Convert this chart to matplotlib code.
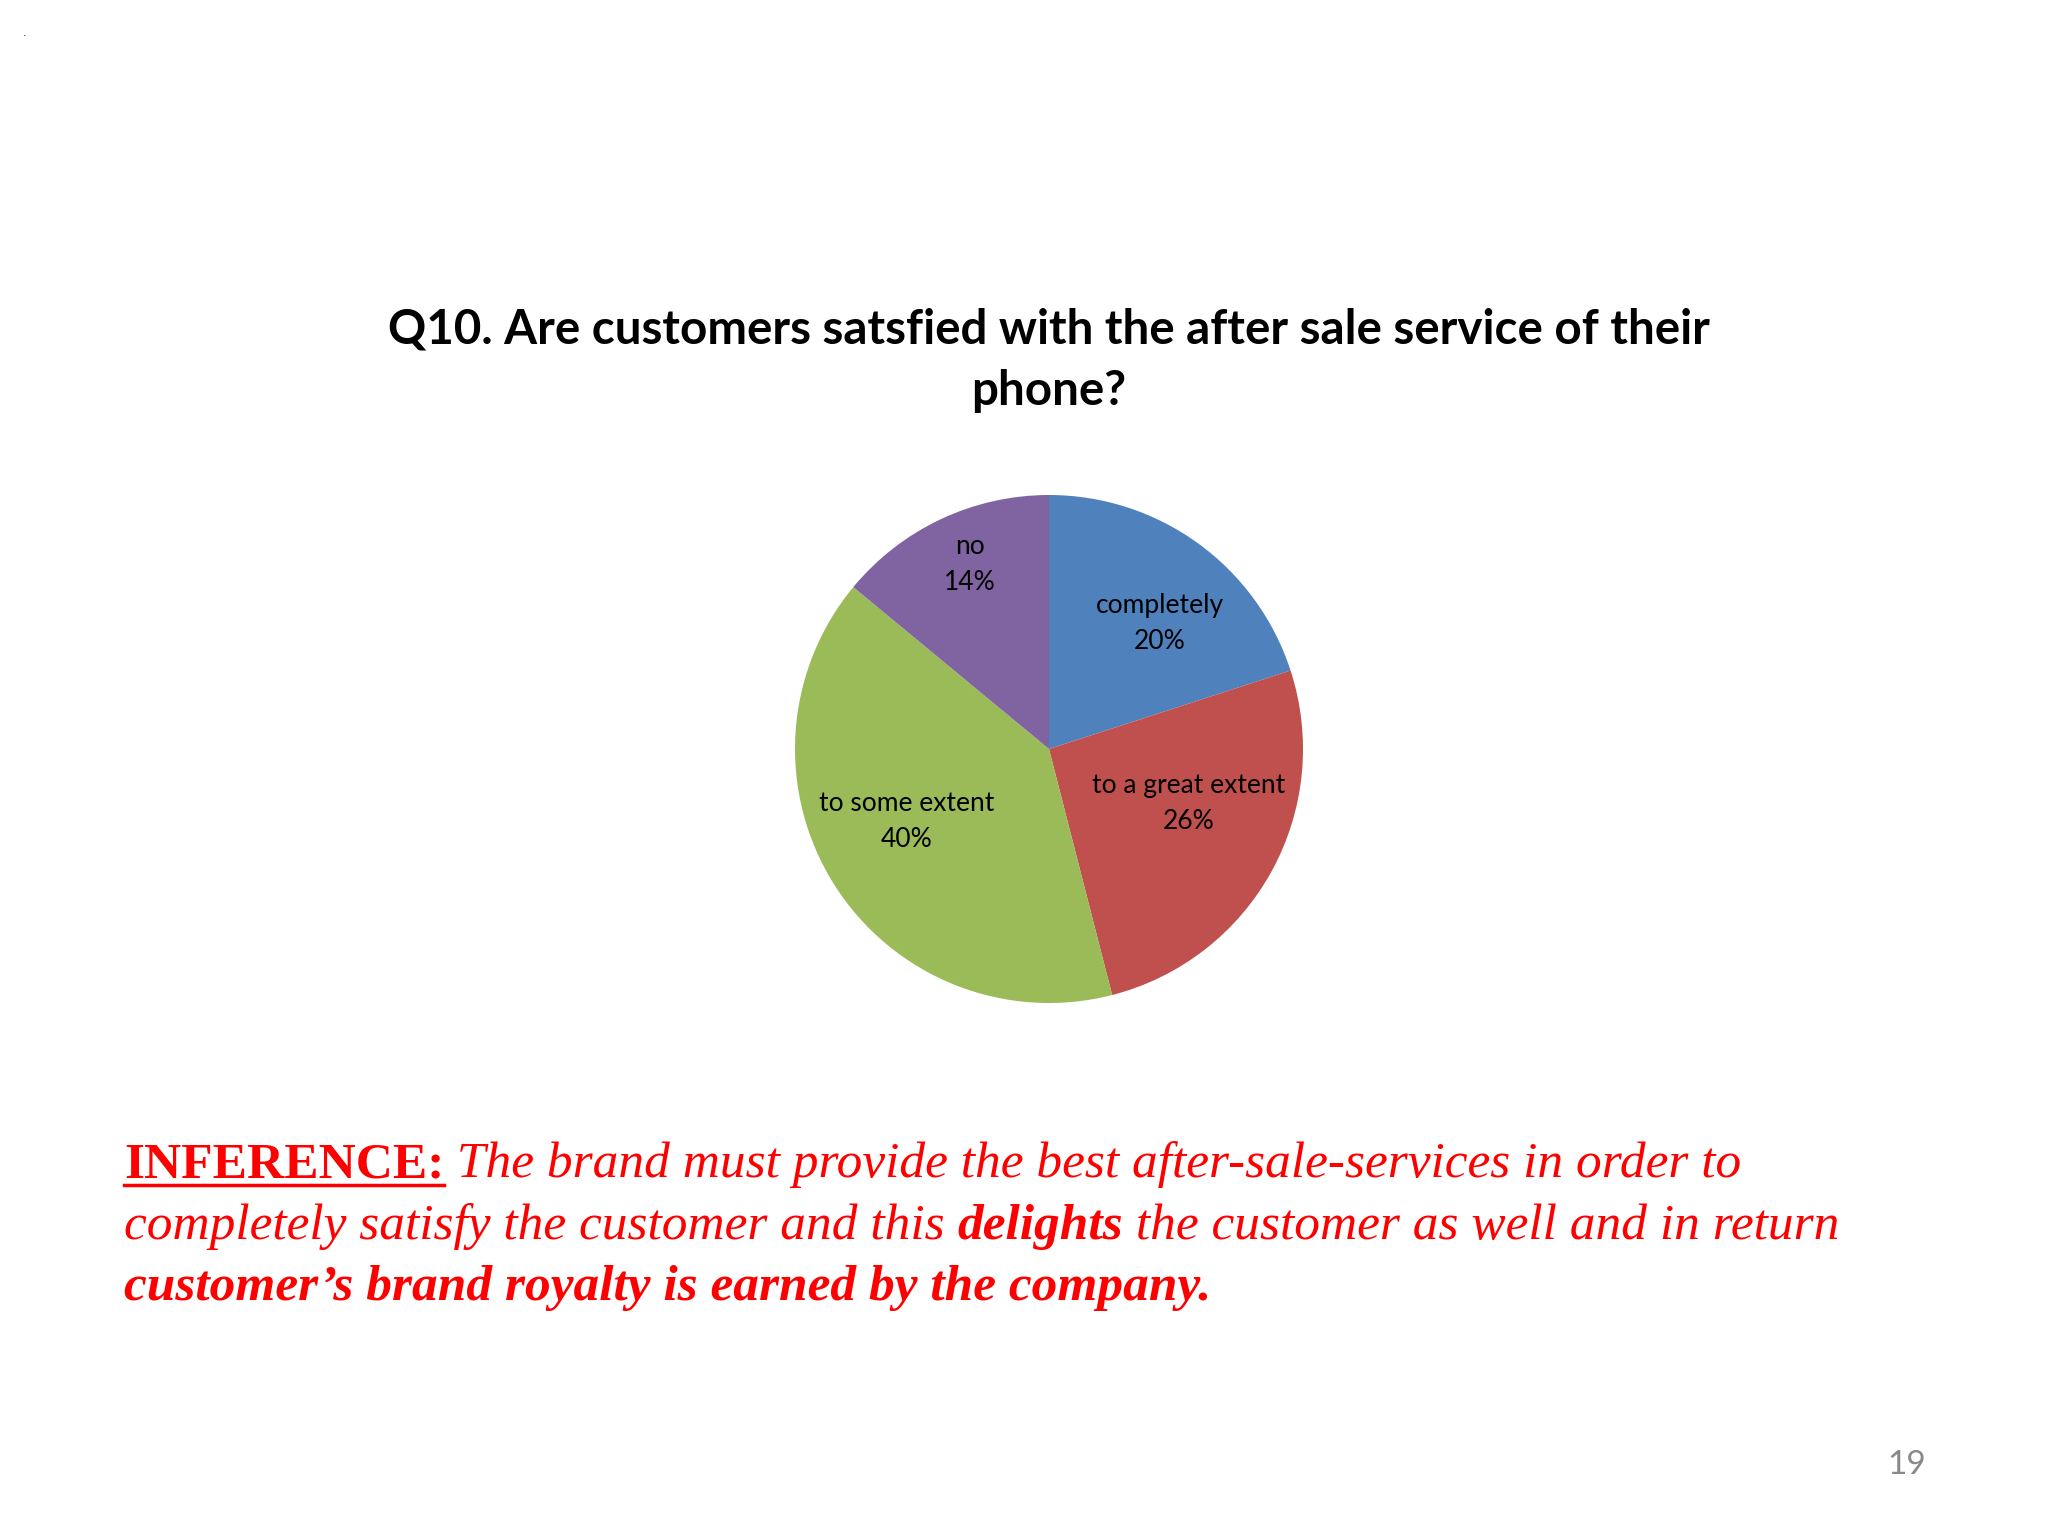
import numpy as np
import matplotlib
matplotlib.use("Agg")
import matplotlib.pyplot as plt
from matplotlib.lines import Line2D

# ============== data ==============
categories = ['completely', 'to a great extent', 'to some extent', 'no']
shares = [20, 26, 40, 14]
colors = ['#4f81bd', '#c0504d', '#9bbb59', '#8064a2']
title_lines = ['Q10. Are customers satsfied with the after sale service of their', 'phone?']

# label placement inside wedges (fraction of radius, angle tweak in deg)
label_r = [0.66, 0.59, 0.63, 0.79]
label_dang = [-5.4, 7.4, -5.5, -2]

W, H = 2048, 1536
fig = plt.figure(figsize=(W / 100, H / 100), dpi=100)
fig.patch.set_facecolor('white')

# ============== pie ==============
cx, cy, r = 1049, 749, 254
ax = fig.add_axes([(cx - r) / W, (H - cy - r) / H, 2 * r / W, 2 * r / H])
wedges, _ = ax.pie(shares, colors=colors, startangle=90, counterclock=False,
                   radius=1.0, wedgeprops=dict(linewidth=0))
ax.set_xlim(-1, 1)
ax.set_ylim(-1, 1)
ax.set_aspect('equal')
ax.axis('off')

for w, cat, val, lr, da in zip(wedges, categories, shares, label_r, label_dang):
    ang = np.deg2rad((w.theta1 + w.theta2) / 2 + da)
    ax.text(lr * np.cos(ang), lr * np.sin(ang), f'{cat}\n{val}%',
            ha='center', va='center', fontsize=19, family='Lato',
            linespacing=1.55, color='black')

# ============== title ==============
for s, yb in zip(title_lines, [343, 405]):
    fig.text(1049 / W, 1 - yb / H, s, ha='center', va='baseline',
             fontsize=34.2, fontweight='bold', family='Lato')

# ============== inference text ==============
red = '#ff0000'
fs = 37
lines = [
    [('INFERENCE:', 'normal', 'bold'),
     (' The brand must provide the best after-sale-services in order to', 'italic', 'normal')],
    [('completely satisfy the customer and this ', 'italic', 'normal'),
     ('delights', 'italic', 'bold'),
     (' the customer as well and in return', 'italic', 'normal')],
    [('customer\u2019s brand royalty is earned by the company.', 'italic', 'bold')],
]
baselines = [1177, 1239, 1300]
x0 = 124

renderer = fig.canvas.get_renderer()
for parts, yb in zip(lines, baselines):
    x = x0
    for s, style, weight in parts:
        t = fig.text(x / W, 1 - yb / H, s, ha='left', va='baseline',
                     fontsize=fs, family='Liberation Serif', style=style,
                     fontweight=weight, color=red)
        bb = t.get_window_extent(renderer)
        if s == 'INFERENCE:':
            fig.add_artist(Line2D([x / W, (x + bb.width) / W],
                                  [1 - (yb + 8) / H] * 2, color=red, linewidth=2.5))
        x += bb.width

# page number and stray dot
fig.text(1907 / W, 1 - 1465 / H, '19', ha='center', va='center',
         fontsize=24, family='Lato', color='#898989')
fig.text(25 / W, 1 - 33 / H, '.', ha='center', va='center', fontsize=8, color='black')

fig.savefig('out.png', dpi=100, facecolor='white')
